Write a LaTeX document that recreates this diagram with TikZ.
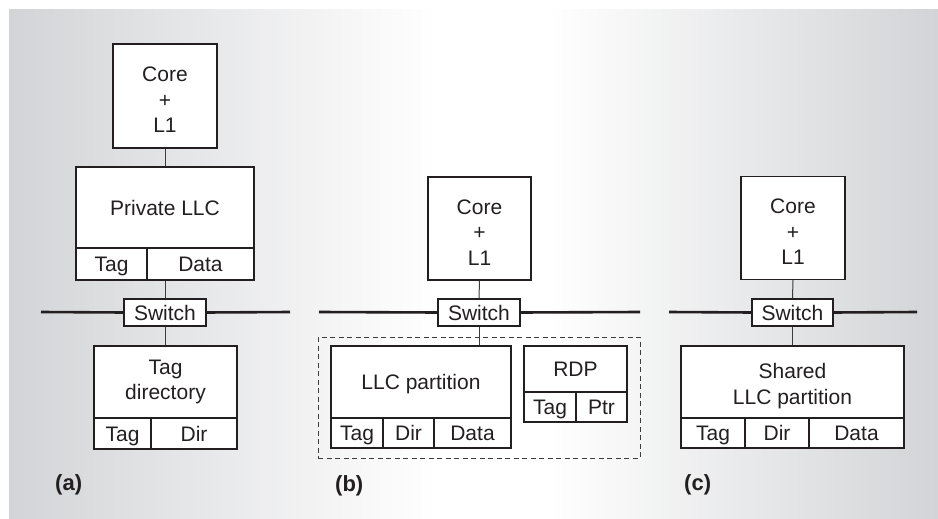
\documentclass[tikz,border=0pt]{standalone}
\usepackage{fontspec}
\setmainfont{Liberation Sans}
\definecolor{bgL}{RGB}{211,212,215}
\definecolor{bgR}{RGB}{211,212,215}
\definecolor{ink}{RGB}{35,31,32}
\definecolor{wire}{RGB}{60,60,60}
\pgfdeclarehorizontalshading{bgshade}{100bp}{color(0bp)=(bgL); color(25bp)=(bgL); color(48bp)=(white); color(54bp)=(white); color(75bp)=(bgR); color(100bp)=(bgR)}
\tikzset{
  box/.style={draw=ink, line width=1.2pt, fill=white, inner sep=0pt, text=ink,
    align=center, font=\fontsize{21}{25.5}\selectfont},
  cell/.style={box, text height=15pt, text depth=0pt},
  tall/.style={box, text height=73pt},
  wirel/.style={draw=wire, line width=1pt},
  bus/.style={draw=ink, line width=2.6pt},
  group/.style={draw=wire, line width=1pt, dash pattern=on 5pt off 3.5pt, inner sep=0pt},
  panellabel/.style={anchor=west, inner sep=0pt, text=ink, font=\fontsize{22}{26}\selectfont\bfseries}
}
\begin{document}
\begin{tikzpicture}[x=1pt, y=-1pt]
\useasboundingbox (0,0) rectangle (938,519);
\shade[shading=bgshade] (9,10) rectangle (938,519);

% ---------- panel (a) ----------
\coordinate (busAl) at (41,312);
\coordinate (busAr) at (290,312);
\node[tall, minimum width=104pt, minimum height=104pt] (coreA) at (165,96) {Core\\+\\L1};
\node[cell, minimum width=178pt, minimum height=81pt] (llcA) at (165,207.5) {Private LLC};
\node[cell, minimum width=71pt, minimum height=32pt] (tagA) at (111.5,264) {Tag};
\node[cell, minimum width=107pt, minimum height=32pt] (dataA) at (200.5,264) {Data};
\node[cell, minimum width=82pt, minimum height=27pt] (switchA) at (165,312.5) {Switch};
\node[box, minimum width=143pt, minimum height=72pt] (tdirA) at (165.5,382) {Tag\\directory};
\node[cell, minimum width=57pt, minimum height=31pt] (ttagA) at (122.5,433.5) {Tag};
\node[cell, minimum width=86pt, minimum height=31pt] (tdA) at (194,433.5) {Dir};
\draw[wirel] (coreA.south) -- (llcA.north);
\draw[wirel] (switchA.north) -- (switchA.north |- dataA.south);
\draw[wirel] (switchA.south) -- (switchA.south |- tdirA.north);
\draw[bus] (busAl) -- (switchA.west);
\draw[bus] (switchA.east) -- (busAr);
\node[panellabel] (labA) at (55,485) {(a)};

% ---------- panel (b) ----------
\coordinate (busBl) at (319,312);
\coordinate (busBr) at (640,312);
\node[group, minimum width=322pt, minimum height=121pt] (grpB) at (479,397.5) {};
\node[tall, minimum width=103pt, minimum height=103pt] (coreB) at (479.5,228.5) {Core\\+\\L1};
\node[cell, minimum width=82pt, minimum height=27pt] (switchB) at (479,312.5) {Switch};
\node[cell, minimum width=180pt, minimum height=72pt] (llcB) at (421,382) {LLC partition};
\node[cell, minimum width=52pt, minimum height=30pt] (tagB) at (357,433) {Tag};
\node[cell, minimum width=51pt, minimum height=30pt] (dirB) at (408.5,433) {Dir};
\node[cell, minimum width=77pt, minimum height=30pt] (dataB) at (472.5,433) {Data};
\node[cell, minimum width=103pt, minimum height=46pt] (rdpB) at (575.5,369) {RDP};
\node[cell, minimum width=52pt, minimum height=30pt] (rtagB) at (550,407) {Tag};
\node[cell, minimum width=51pt, minimum height=30pt] (rptrB) at (601.5,407) {Ptr};
\draw[wirel] (coreB.south) -- (switchB.north);
\draw[wirel] (switchB.south) -- (switchB.south |- llcB.north);
\draw[bus] (busBl) -- (switchB.west);
\draw[bus] (switchB.east) -- (busBr);
\node[panellabel] (labB) at (335,486) {(b)};

% ---------- panel (c) ----------
\coordinate (busCl) at (669,312);
\coordinate (busCr) at (917,312);
\node[tall, minimum width=104pt, minimum height=103pt] (coreC) at (793,228) {Core\\+\\L1};
\node[cell, minimum width=81pt, minimum height=27pt] (switchC) at (792.5,312.5) {Switch};
\node[box, text height=49pt, minimum width=223pt, minimum height=72pt] (llcC) at (792.5,382) {Shared\\LLC partition};
\node[cell, minimum width=64pt, minimum height=30pt] (tagC) at (713,433) {Tag};
\node[cell, minimum width=64pt, minimum height=30pt] (dirC) at (777,433) {Dir};
\node[cell, minimum width=95pt, minimum height=30pt] (dataC) at (856.5,433) {Data};
\draw[wirel] (coreC.south) -- (switchC.north);
\draw[wirel] (switchC.south) -- (switchC.south |- llcC.north);
\draw[bus] (busCl) -- (switchC.west);
\draw[bus] (switchC.east) -- (busCr);
\node[panellabel] (labC) at (684,485) {(c)};
\end{tikzpicture}
\end{document}
